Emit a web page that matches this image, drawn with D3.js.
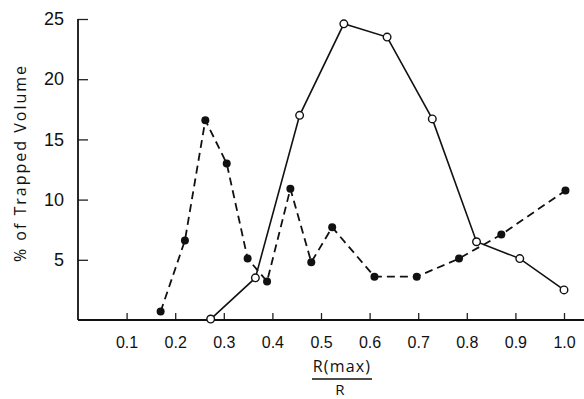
<!DOCTYPE html>
<html>
<head>
<meta charset="utf-8">
<script src="https://cdn.jsdelivr.net/npm/d3@7"></script>
<style>
  body { margin: 0; background: #fff; }
  svg { display: block; font-family: "Open Sans", "DejaVu Sans", sans-serif; }
  .tick text { font-size: 16px; fill: #111; }
</style>
</head>
<body>
<svg id="chart" width="584" height="399"></svg>
<script>
// filled circles, dashed line
var filledX = [0.17, 0.22, 0.262, 0.306, 0.349, 0.389, 0.437, 0.48, 0.523, 0.61, 0.697, 0.784, 0.871, 1.003];
var filledY = [0.7, 6.6, 16.6, 13.0, 5.1, 3.2, 10.9, 4.8, 7.7, 3.6, 3.6, 5.1, 7.1, 10.75];
// open circles, solid line
var openX = [0.273, 0.365, 0.456, 0.547, 0.636, 0.729, 0.82, 0.909, 1.0];
var openY = [0.08, 3.5, 17.0, 24.6, 23.5, 16.7, 6.5, 5.1, 2.5];

var xTicks = [0.1, 0.2, 0.3, 0.4, 0.5, 0.6, 0.7, 0.8, 0.9, 1.0];
var yTicks = [5, 10, 15, 20, 25];

var svg = d3.select("#chart");

// margin convention, more or less
var margin = {top: 19, right: 0, bottom: 79, left: 78};
var width = 584 - margin.left - margin.right;
var height = 399 - margin.top - margin.bottom;

var g = svg.append("g")
    .attr("transform", "translate(" + margin.left + "," + margin.top + ")");

var x = d3.scaleLinear().domain([0, 1.0]).range([0, 486]);
var y = d3.scaleLinear().domain([0, 25]).range([height, 0]);

// x axis, ticks point up into the plot
var xAxis = g.append("g")
    .attr("transform", "translate(0," + height + ")")
    .call(d3.axisBottom(x).tickValues(xTicks).tickSize(-7).tickPadding(17)
      .tickFormat(function(d) { return d3.format(".1f")(d); }));
xAxis.select(".domain").remove();
xAxis.selectAll(".tick line").attr("stroke", "#222").attr("stroke-width", 1.3);
g.append("line")
    .attr("x1", 0).attr("x2", width)
    .attr("y1", height).attr("y2", height)
    .attr("stroke", "#111").attr("stroke-width", 2);

// y axis, ticks point right
var yAxis = g.append("g")
    .call(d3.axisLeft(y).tickValues(yTicks).tickSize(-10).tickPadding(14));
yAxis.select(".domain").remove();
yAxis.selectAll(".tick line").attr("stroke", "#222").attr("stroke-width", 1.3);
yAxis.selectAll(".tick text").style("font-size", "18px");
g.append("line")
    .attr("x1", 0).attr("x2", 0)
    .attr("y1", 0).attr("y2", height)
    .attr("stroke", "#111").attr("stroke-width", 1.8);

var filled = filledX.map(function(d, i) { return {x: d, y: filledY[i]}; });
var open = openX.map(function(d, i) { return {x: d, y: openY[i]}; });

var line = d3.line()
    .x(function(d) { return x(d.x); })
    .y(function(d) { return y(d.y); });

g.append("path")
    .datum(filled)
    .attr("fill", "none")
    .attr("stroke", "#111")
    .attr("stroke-width", 1.8)
    .attr("stroke-dasharray", "8,5")
    .attr("d", line);

g.append("path")
    .datum(open)
    .attr("fill", "none")
    .attr("stroke", "#111")
    .attr("stroke-width", 1.6)
    .attr("d", line);

g.selectAll(".dot")
    .data(filled)
  .enter().append("circle")
    .attr("class", "dot")
    .attr("cx", function(d) { return x(d.x); })
    .attr("cy", function(d) { return y(d.y); })
    .attr("r", 4)
    .attr("fill", "#111");

g.selectAll(".odot")
    .data(open)
  .enter().append("circle")
    .attr("class", "odot")
    .attr("cx", function(d) { return x(d.x); })
    .attr("cy", function(d) { return y(d.y); })
    .attr("r", 3.8)
    .attr("fill", "#fff")
    .attr("stroke", "#111")
    .attr("stroke-width", 1.4);

// y label
svg.append("text")
    .attr("transform", "translate(26,163) rotate(-90)")
    .attr("text-anchor", "middle")
    .style("font-size", "16px")
    .style("letter-spacing", "2px")
    .attr("fill", "#111")
    .text("% of Trapped Volume");

// x label as a fraction
svg.append("text")
    .attr("x", 342).attr("y", 372)
    .attr("text-anchor", "middle")
    .style("font-size", "16px")
    .style("letter-spacing", "1.2px")
    .attr("fill", "#111")
    .text("R(max)");
svg.append("line")
    .attr("x1", 312).attr("x2", 372)
    .attr("y1", 379).attr("y2", 379)
    .attr("stroke", "#111").attr("stroke-width", 1.5);
svg.append("text")
    .attr("x", 340).attr("y", 395)
    .attr("text-anchor", "middle")
    .style("font-size", "15px")
    .attr("fill", "#111")
    .text("R");
</script>
</body>
</html>
